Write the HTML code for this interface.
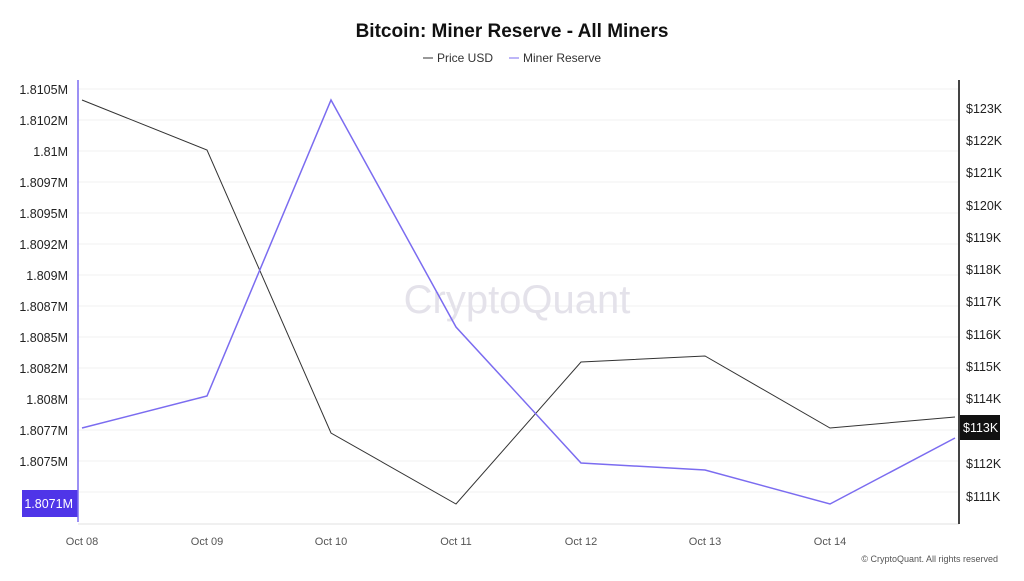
<!DOCTYPE html>
<html><head><meta charset="utf-8"><style>
body{margin:0;width:1024px;height:576px;background:#fff;font-family:"Liberation Sans",sans-serif;overflow:hidden}
</style></head><body>
<svg width="1024" height="576" xmlns="http://www.w3.org/2000/svg" font-family="Liberation Sans, sans-serif">
<text x="512" y="37" text-anchor="middle" font-size="19" font-weight="bold" fill="#111">Bitcoin: Miner Reserve - All Miners</text>
<line x1="423" y1="58" x2="433" y2="58" stroke="#333"/>
<text x="437" y="62" font-size="12" fill="#333">Price USD</text>
<line x1="509" y1="58" x2="519" y2="58" stroke="#7b6cf0"/>
<text x="523" y="62" font-size="12" fill="#333">Miner Reserve</text>
<g stroke="#f0f0f0" stroke-width="1">
<line x1="78" x2="959" y1="89" y2="89"/><line x1="78" x2="959" y1="120" y2="120"/><line x1="78" x2="959" y1="151" y2="151"/><line x1="78" x2="959" y1="182" y2="182"/><line x1="78" x2="959" y1="213" y2="213"/><line x1="78" x2="959" y1="244" y2="244"/><line x1="78" x2="959" y1="275" y2="275"/><line x1="78" x2="959" y1="306" y2="306"/><line x1="78" x2="959" y1="337" y2="337"/><line x1="78" x2="959" y1="368" y2="368"/><line x1="78" x2="959" y1="399" y2="399"/><line x1="78" x2="959" y1="430" y2="430"/><line x1="78" x2="959" y1="461" y2="461"/><line x1="78" x2="959" y1="492" y2="492"/>
</g>
<line x1="78" x2="959" y1="524" y2="524" stroke="#e0e0e0"/>
<text x="517" y="313" text-anchor="middle" font-size="40" fill="#e4e2ea">CryptoQuant</text>
<g font-size="12.5" fill="#222" text-anchor="end">
<text x="68" y="94">1.8105M</text><text x="68" y="125">1.8102M</text><text x="68" y="156">1.81M</text><text x="68" y="187">1.8097M</text><text x="68" y="218">1.8095M</text><text x="68" y="249">1.8092M</text><text x="68" y="280">1.809M</text><text x="68" y="311">1.8087M</text><text x="68" y="342">1.8085M</text><text x="68" y="373">1.8082M</text><text x="68" y="404">1.808M</text><text x="68" y="435">1.8077M</text><text x="68" y="466">1.8075M</text>
</g>
<rect x="22" y="490" width="56" height="27" fill="#4f35e8"/>
<text x="73" y="508" text-anchor="end" font-size="12.5" fill="#fff">1.8071M</text>
<line x1="78" y1="80" x2="78" y2="522" stroke="#7b6cf0" stroke-width="1.5"/>
<line x1="959" y1="80" x2="959" y2="524" stroke="#444" stroke-width="2"/>
<g font-size="12.5" fill="#222">
<text x="966" y="113">$123K</text><text x="966" y="145">$122K</text><text x="966" y="177">$121K</text><text x="966" y="210">$120K</text><text x="966" y="242">$119K</text><text x="966" y="274">$118K</text><text x="966" y="306">$117K</text><text x="966" y="339">$116K</text><text x="966" y="371">$115K</text><text x="966" y="403">$114K</text><text x="966" y="468">$112K</text><text x="966" y="501">$111K</text>
</g>
<rect x="960" y="415" width="40" height="25" fill="#111"/>
<text x="963" y="432" font-size="12.5" fill="#fff">$113K</text>
<g font-size="11" fill="#555" text-anchor="middle">
<text x="82" y="545">Oct 08</text><text x="207" y="545">Oct 09</text><text x="331" y="545">Oct 10</text><text x="456" y="545">Oct 11</text><text x="581" y="545">Oct 12</text><text x="705" y="545">Oct 13</text><text x="830" y="545">Oct 14</text>
</g>
<polyline fill="none" stroke="#333" stroke-width="1" points="82,100 207,150 331,433 456,504 581,362 705,356 830,428 955,417"/>
<polyline fill="none" stroke="#7b6cf0" stroke-width="1.5" points="82,428 207,396 331,100 456,327 581,463 705,470 830,504 955,438"/>
<text x="998" y="562" text-anchor="end" font-size="9" fill="#555">© CryptoQuant. All rights reserved</text>
</svg>
</body></html>
